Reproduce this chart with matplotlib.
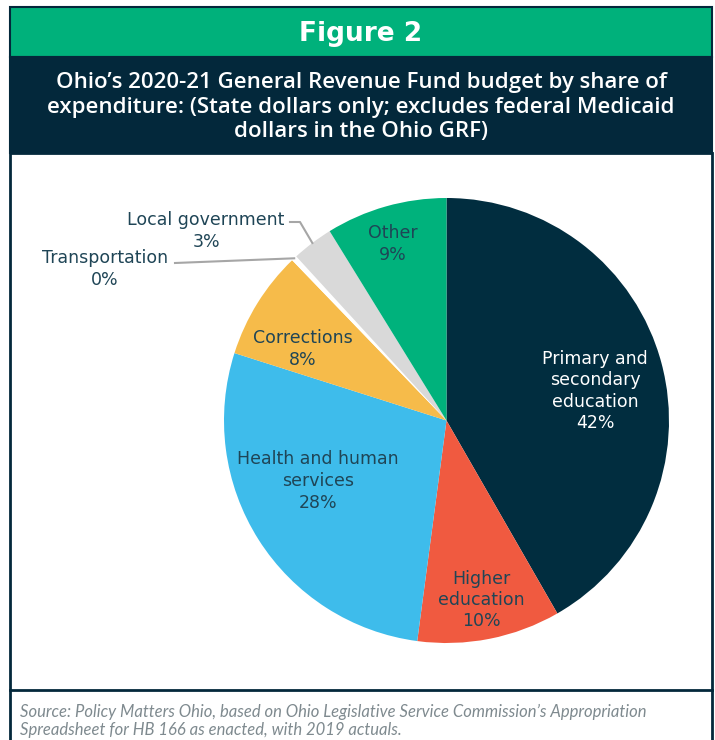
import matplotlib.pyplot as plt
from matplotlib.patches import Rectangle
import numpy as np

plt.rcParams['font.family'] = ['DejaVu Sans']

# data (share of GRF expenditure, %)
categories = ["Primary and\nsecondary\neducation", "Higher\neducation",
              "Health and human\nservices", "Corrections", "Transportation",
              "Local government", "Other"]
shares = [41.7, 10.4, 27.8, 7.9, 0.4, 3.0, 8.8]
pct_labels = ["42%", "10%", "28%", "8%", "0%", "3%", "9%"]
colors = ["#012d3f", "#f05a40", "#3ebceb", "#f6bb4a", "#ffffff", "#d9d9d9", "#00b27c"]

navy = "#03283b"
green = "#00b17b"
label_color = "#1f4556"

W, H = 715, 740
fig = plt.figure(figsize=(W / 100, H / 100), dpi=100)
ax = fig.add_axes([0, 0, 1, 1])

def y(py):
    # pixel row from top -> data y
    return H - py

# pie
cx, cy, r = 446.5, y(420.5), 222.5
wedges, _ = ax.pie(shares, colors=colors, startangle=90, counterclock=False,
                   center=(cx, cy), radius=r, frame=True,
                   wedgeprops=dict(linewidth=0))
ax.set_xlim(0, W)
ax.set_ylim(0, H)
ax.set_aspect("equal")
ax.axis("off")

# header boxes
ax.add_patch(Rectangle((10, y(57)), 702, 50, facecolor=green, edgecolor=navy, lw=1.5, zorder=0))
ax.add_patch(Rectangle((10, y(153)), 702, 96, facecolor=navy, edgecolor=navy, lw=1.5, zorder=0))
ax.add_patch(Rectangle((10, y(690)), 702, 537, facecolor="white", edgecolor=navy, lw=2, zorder=0))
ax.plot([10, 10], [y(690), y(745)], color=navy, lw=2)
ax.plot([712, 712], [y(690), y(745)], color=navy, lw=2)

ax.text(361, y(34), "Figure 2", color="white", fontsize=19, fontweight="bold",
        ha="center", va="center")
ax.text(361, y(107), "Ohio\u2019s 2020-21 General Revenue Fund budget by share of\n"
        "expenditure: (State dollars only; excludes federal Medicaid\n"
        "dollars in the Ohio GRF)", color="white", fontsize=16, fontweight="semibold",
        family="Open Sans", ha="center", va="center", linespacing=1.2)

# in-slice labels (pixel positions of label centres)
inside = {0: (595, 391, "white"), 1: (481, 600, label_color), 2: (318, 481, label_color),
          3: (303, 349, label_color), 6: (393, 244, label_color)}
for i, (px, py, col) in inside.items():
    ax.text(px, y(py), categories[i] + "\n" + pct_labels[i], color=col, fontsize=12.5,
            ha="center", va="center", linespacing=1.25)

# outside labels with leader lines
def edge_point(i, frac=1.0):
    w = wedges[i]
    ang = np.deg2rad((w.theta1 + w.theta2) / 2)
    return cx + r * frac * np.cos(ang), cy + r * frac * np.sin(ang)

ax.text(206, y(231), categories[5] + "\n" + pct_labels[5], color=label_color,
        fontsize=12.5, ha="center", va="center", linespacing=1.25)
ex, ey = edge_point(5, 1.0)
ax.plot([290, 300, ex], [y(222), y(222), ey], color="#a6a6a6", lw=1.5)

ax.text(105, y(269), categories[4] + "\n" + pct_labels[4], color=label_color,
        fontsize=12.5, ha="center", va="center", linespacing=1.25)
ex, ey = edge_point(4, 1.0)
ax.plot([175, ex], [y(263), ey], color="#a6a6a6", lw=1.5)

# source
ax.text(20, y(721), "Source: Policy Matters Ohio, based on Ohio Legislative Service Commission\u2019s Appropriation\n"
        "Spreadsheet for HB 166 as enacted, with 2019 actuals.", color="#7f8a8f",
        fontsize=12, style="italic", family="Lato", ha="left", va="center", linespacing=1.2)

fig.savefig("out.png", dpi=100)
